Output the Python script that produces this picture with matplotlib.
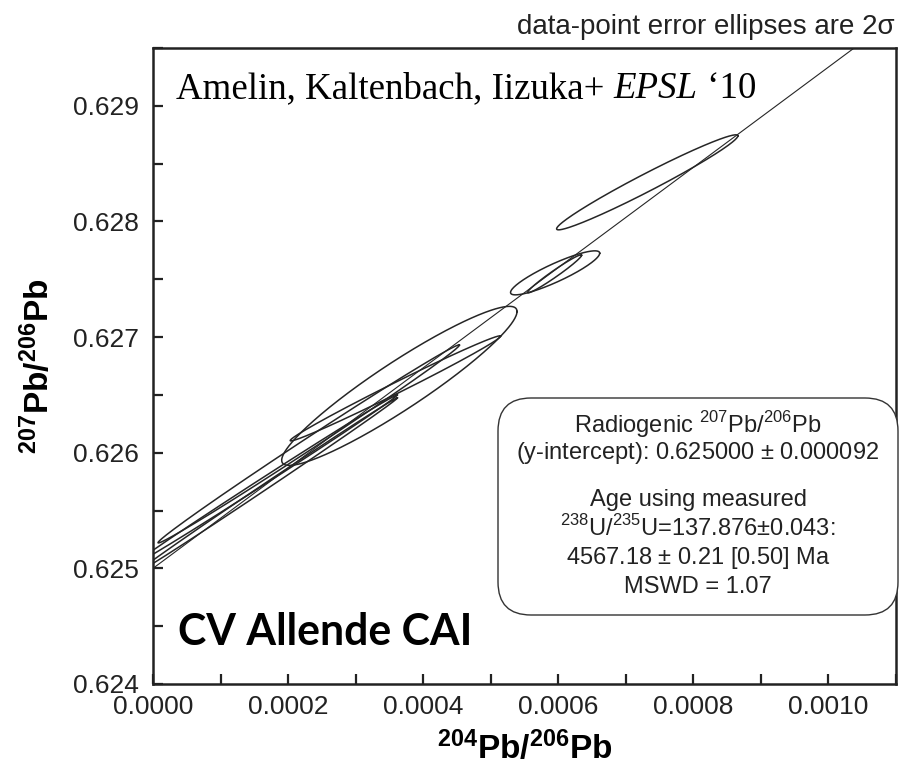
import matplotlib
matplotlib.use('Agg')
import matplotlib.pyplot as plt
import numpy as np
from matplotlib.ticker import MultipleLocator, FormatStrFormatter
from matplotlib.patches import FancyBboxPatch

plt.rcParams['font.family'] = ['Liberation Sans', 'DejaVu Sans']
plt.rcParams['mathtext.fontset'] = 'custom'
plt.rcParams['mathtext.rm'] = 'Liberation Sans'
plt.rcParams['mathtext.bf'] = 'Liberation Sans:bold'

# 204Pb/206Pb and 207Pb/206Pb with 2 sigma errors and error correlation
ptX = [0.0007317, 0.0005953, 0.0005945, 0.0003647, 0.0003588, 0.0002305, 0.0001675, 0.0001698]
ptSX = [0.0001342, 0.0000660, 0.0000400, 0.0001742, 0.0001557, 0.0002231, 0.0001942, 0.0001920]
ptY = [0.6283382, 0.6275554, 0.6275467, 0.6265779, 0.6265562, 0.6260761, 0.6257690, 0.6257215]
ptSY = [0.0004109, 0.0001903, 0.0001644, 0.0006877, 0.0004541, 0.0008564, 0.0007310, 0.0007526]
ptRho = [0.978, 0.8907, 0.9776, 0.935, 0.9934, 0.9975, 0.9989, 0.9992]

# isochron fit
intercept = 0.625000
slope = 4.335

xLim = [0.0, 0.0011]
yLim = [0.624, 0.6295]

boxLines = [r'Radiogenic $^{207}$Pb/$^{206}$Pb',
            r'(y-intercept): 0.625000 $\pm$ 0.000092',
            'Age using measured',
            r'$^{238}$U/$^{235}$U=137.876$\pm$0.043:',
            r'4567.18 $\pm$ 0.21 [0.50] Ma',
            'MSWD = 1.07']


def errorEllipse(x0, sx, y0, sy, rho, n=400):
    t = np.linspace(0, 2 * np.pi, n)
    ex = x0 + sx * np.cos(t)
    ey = y0 + sy * (rho * np.cos(t) + np.sqrt(1 - rho ** 2) * np.sin(t))
    return ex, ey


fig = plt.figure(figsize=(8.99, 7.7), dpi=100)
ax = fig.add_axes([0.1702, 0.1117, 0.8265, 0.826])

ink = '#262626'
for x0, sx, y0, sy, rho in zip(ptX, ptSX, ptY, ptSY, ptRho):
    ex, ey = errorEllipse(x0, sx, y0, sy, rho)
    ax.plot(ex, ey, color=ink, lw=1.1)

xref = np.array(xLim)
ax.plot(xref, intercept + slope * xref, color=ink, lw=0.8)

ax.set_xlim(xLim)
ax.set_ylim(yLim)
ax.xaxis.set_major_locator(MultipleLocator(0.0002))
ax.xaxis.set_minor_locator(MultipleLocator(0.0001))
ax.yaxis.set_major_locator(MultipleLocator(0.001))
ax.yaxis.set_minor_locator(MultipleLocator(0.0005))
ax.xaxis.set_major_formatter(FormatStrFormatter('%.4f'))
ax.yaxis.set_major_formatter(FormatStrFormatter('%.3f'))
ax.tick_params(which='both', direction='in', length=7, width=1.6, colors='#222222',
               labelsize=19, top=False, right=False)
ax.tick_params(axis='y', pad=10)
ax.tick_params(axis='x', pad=8)
for sp in ax.spines.values():
    sp.set_linewidth(1.8)
    sp.set_color('#222222')

ax.set_xlabel(r'$\mathbf{^{204}Pb/^{206}Pb}$', fontsize=24, labelpad=8)
ax.set_ylabel(r'$\mathbf{^{207}Pb/^{206}Pb}$', fontsize=24, labelpad=12)

fig.text(0.9955, 0.956, 'data-point error ellipses are 2σ', ha='right', va='baseline',
         fontsize=20, color='#222222')

# reference line, serif with italic journal name
t1 = ax.text(0.031, 0.921, 'Amelin, Kaltenbach, Iizuka+ ', transform=ax.transAxes,
             family='Liberation Serif', fontsize=26.6, va='baseline', ha='left')
t2 = ax.annotate('EPSL', xy=(1, 0), xycoords=t1, va='bottom', ha='left',
                 family='Liberation Serif', style='italic', fontsize=26.6)
ax.annotate(' \u201810', xy=(1, 0), xycoords=t2, va='bottom', ha='left',
            family='Liberation Serif', fontsize=26.6)

ax.text(0.034, 0.062, 'CV Allende CAI', transform=ax.transAxes, family='Lato',
        fontweight='bold', fontsize=30.8, va='baseline', ha='left')

box = FancyBboxPatch((4.98, 1.55), 4.0, 2.17, boxstyle='round,pad=0,rounding_size=0.33',
                     transform=fig.dpi_scale_trans, facecolor='white', edgecolor='#333333',
                     lw=1.0, clip_on=False, zorder=3)
ax.add_patch(box)
boxY = [425, 453, 500, 528, 558, 587]
for line, yPix in zip(boxLines, boxY):
    fig.text(698 / 899, 1 - yPix / 770, line, ha='center', va='center', fontsize=17,
             color='#222222', zorder=4)

fig.savefig('out.png', dpi=100)
